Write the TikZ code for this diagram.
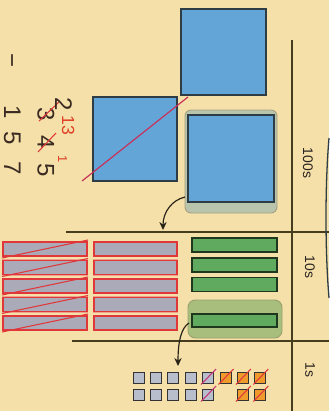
\documentclass[tikz,border=0pt]{standalone}
\usepackage{fontspec}
\setmainfont{Liberation Sans}
\usetikzlibrary{arrows.meta}
\definecolor{bg}{HTML}{F4E0A8}
\definecolor{blueF}{HTML}{64A5D7}
\definecolor{blueD}{HTML}{2E3C46}
\definecolor{hlBlueF}{HTML}{B8C4AC}
\definecolor{hlBlueD}{HTML}{A8A080}
\definecolor{greenF}{HTML}{5FAA5F}
\definecolor{greenD}{HTML}{1F361F}
\definecolor{hlGreenF}{HTML}{A8BE7C}
\definecolor{hlGreenD}{HTML}{98A070}
\definecolor{grayF}{HTML}{AAAAB8}
\definecolor{redE}{HTML}{E0383A}
\definecolor{redGlow}{HTML}{F2A08C}
\definecolor{unitF}{HTML}{B9BECD}
\definecolor{unitD}{HTML}{333333}
\definecolor{orangeF}{HTML}{F09A2C}
\definecolor{magentaS}{HTML}{C83278}
\definecolor{crossS}{HTML}{C8305A}
\definecolor{linec}{HTML}{463C1E}
\definecolor{arrowc}{HTML}{2A2418}
\definecolor{textc}{HTML}{2A2420}
\definecolor{digitc}{HTML}{3A2A22}
\definecolor{redT}{HTML}{E04028}
\tikzset{
  sepline/.style={draw=linec, line width=1pt},
  blueblock/.style={fill=blueF, draw=blueD, line width=1.2pt},
  hlblue/.style={fill=hlBlueF, draw=hlBlueD, line width=0.8pt, rounded corners=1.8mm},
  hlgreen/.style={fill=hlGreenF, draw=hlGreenD, line width=0.8pt, rounded corners=2.2mm},
  rod/.style={fill=greenF, draw=greenD, line width=1.1pt},
  grayrod/.style={fill=grayF, draw=redE, line width=0.9pt},
  glow/.style={draw=redGlow, line width=2.4pt},
  zig/.style={draw=redE, line width=0.9pt},
  unitsq/.style={fill=unitF, draw=unitD, line width=0.8pt},
  orangesq/.style={fill=orangeF, draw=unitD, line width=0.8pt},
  magslash/.style={draw=magentaS, line width=0.9pt},
  redslash/.style={draw=redE, line width=0.9pt},
  curvearrow/.style={draw=arrowc, line width=1pt, -{Stealth[length=2.4mm,width=2.2mm]}},
  lbl/.style={rotate=-90, font=\fontsize{11.9}{14}\selectfont, text=textc, inner sep=0pt},
  digit/.style={rotate=-90, anchor=base, font=\fontsize{20.5}{22}\selectfont, text=digitc, inner sep=0pt},
  smalldigit/.style={rotate=-90, anchor=base, font=\fontsize{15}{16}\selectfont, text=redT, inner sep=0pt},
}
\begin{document}
\begin{tikzpicture}[x=0.3mm,y=-0.3mm]
\fill[bg] (0,0) rectangle (329,411);
\useasboundingbox (0,0) rectangle (329,411);

% column separators
\draw[sepline] (292,40) -- (292,411);
\draw[sepline] (66,232) -- (329,232);
\draw[sepline] (72,341) -- (329,341);
% edge arc
\draw[draw=blueD, line width=1.1pt] (329,138) .. controls (325,185) and (325,250) .. (329,298);

% column labels
\node[lbl] (l100) at (308,163) {100s};
\node[lbl] (l10) at (310,267) {10s};
\node[lbl] (l1) at (310,370) {1s};

% hundreds
\draw[blueblock] (181,9) rectangle (266,95);
\draw[blueblock] (93,97) rectangle (177,181);
\draw[draw=crossS, line width=1pt] (82,181) -- (188,97);
\draw[hlblue] (185,110) rectangle (277,213);
\draw[blueblock] (188,115) rectangle (274,202);
\coordinate (hA) at (185,197);
\coordinate (hB) at (163,230);
\draw[curvearrow] (hA) .. controls (172,200) and (163,212) .. (hB);

% tens: gray rods
\foreach \t in {242,260.5,279,297.5,316} {
  \draw[glow] (3,\t) rectangle (87,\t+14);
  \draw[glow] (94,\t) rectangle (177,\t+14);
}
\foreach \t in {242,260.5,279,297.5,316} {
  \draw[grayrod] (3,\t) rectangle (87,\t+14);
  \draw[grayrod] (94,\t) rectangle (177,\t+14);
  \draw[zig] (2,\t+16) -- (88,\t-2);
}
% tens: green rods
\foreach \t in {238,258,277.5} {
  \draw[rod] (192,\t) rectangle (277,\t+14);
}
\draw[hlgreen] (188,300) rectangle (282,338);
\draw[rod] (192,314) rectangle (277,327);
\coordinate (tA) at (189,323);
\coordinate (tB) at (178,366);
\draw[curvearrow] (tA) .. controls (181,328) and (178,342) .. (tB);

% ones
\foreach \x in {133,150.4,167.8,185.2} {
  \draw[unitsq] (\x,372) rectangle (\x+11,383);
  \draw[unitsq] (\x,389) rectangle (\x+11,400);
}
\foreach \y in {372,389} {
  \draw[unitsq] (202.6,\y) rectangle (213.6,\y+11);
  \draw[magslash] (201,\y+12.5) -- (216,\y-3);
}
\foreach \x/\y in {220/372,237.4/372,254.8/372,237.4/389,254.8/389} {
  \draw[orangesq] (\x,\y) rectangle (\x+11,\y+11);
  \draw[redslash] (\x-1.5,\y+12.5) -- (\x+13.5,\y-3);
}

% written subtraction
\node[digit] (minus) at (4,61) {−};
\node[digit] (d1) at (4,112) {1};
\node[digit] (d5) at (4,138) {5};
\node[digit] (d7) at (4,168) {7};
\node[digit] (e3) at (37.5,114) {3};
\node[digit] (e4) at (37.5,142) {4};
\node[digit] (e5) at (37.5,170) {5};
\draw[draw=redE, line width=0.9pt] (39,121) -- (59,102);
\draw[draw=redE, line width=0.9pt] (38,152) -- (56,133);
\node[digit] (b2) at (55,104) {2};
\node[smalldigit] (r13) at (62,125) {13};
\node[smalldigit, font=\fontsize{11}{12}\selectfont] (r1) at (58,159) {1};
\end{tikzpicture}
\end{document}
